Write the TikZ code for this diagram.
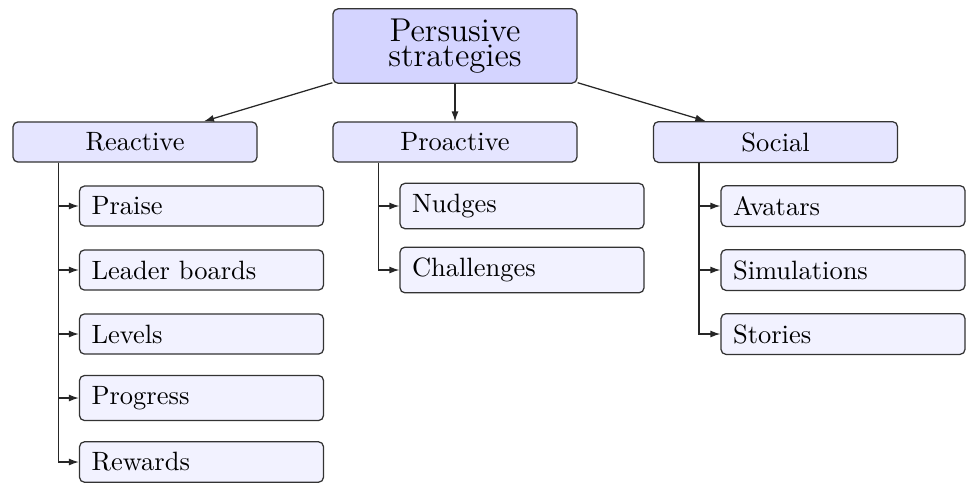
\documentclass[tikz,border=0pt]{standalone}
\usetikzlibrary{arrows.meta}
\newcommand*{\boxw }{97.6pt}
\newcommand*{\itemw}{88pt}
\newcommand*{\trunk}{18.4pt}
\colorlet{toplila}{blue!17}
\colorlet{grouplila}{blue!10}
\colorlet{itemlila}{blue!5}

\begin{document}
\begin{tikzpicture}[
        every node/.style={draw=black!80, rounded corners=2pt, line width=0.5pt, font=\fontsize{10.6}{12.7}\selectfont},
        topbox/.style={fill=toplila, minimum width=\boxw, align=center, font=\fontsize{13.2}{15}\selectfont, inner ysep=4pt},
        groupbox/.style={fill=grouplila, minimum width=\boxw, inner ysep=4.3pt},
        itembox/.style={fill=itemlila, text width=\itemw, inner xsep=4.8pt, inner ysep=4.3pt, align=left},
        conn/.style={-{Latex[length=4pt,width=2.8pt]}, black!85, line width=0.5pt}]
    \useasboundingbox (0,0) rectangle (386.8pt,-193.2pt);
    % root
    \node [topbox] (persuade) at (182pt,-18.4pt) {Persusive\\[-5pt]strategies};
    % strategy groups
    \node [groupbox] (reactive)  at ( 54pt,-56.8pt) {Reactive};
    \node [groupbox] (proactive) at (182pt,-56.8pt) {Proactive};
    \node [groupbox] (social)    at (310.2pt,-56.8pt) {Social};
    % reactive
    \node [itembox] (praise)   at (80.6pt, -82.4pt) {Praise};
    \node [itembox] (leaders)  at (80.6pt,-108pt)   {Leader boards};
    \node [itembox] (levels)   at (80.6pt,-133.6pt) {Levels};
    \node [itembox] (progress) at (80.6pt,-159.2pt) {Progress};
    \node [itembox] (rewards)  at (80.6pt,-184.8pt) {Rewards};
    % proactive
    \node [itembox] (nudges)     at (208.8pt, -82.4pt) {Nudges};
    \node [itembox] (challenges) at (208.8pt,-108pt)   {Challenges};
    % social
    \node [itembox] (avatars)     at (337.2pt, -82.4pt) {Avatars};
    \node [itembox] (simulations) at (337.2pt,-108pt)   {Simulations};
    \node [itembox] (stories)     at (337.2pt,-133.6pt) {Stories};

    \draw [conn] (persuade) -- (reactive);
    \draw [conn] (persuade) -- (proactive);
    \draw [conn] (persuade) -- (social);

    \draw [conn] (reactive.south west) ++(\trunk,0) |- (praise.west);
    \draw [conn] (reactive.south west) ++(\trunk,0) |- (leaders.west);
    \draw [conn] (reactive.south west) ++(\trunk,0) |- (levels.west);
    \draw [conn] (reactive.south west) ++(\trunk,0) |- (progress.west);
    \draw [conn] (reactive.south west) ++(\trunk,0) |- (rewards.west);

    \draw [conn] (proactive.south west) ++(\trunk,0) |- (nudges.west);
    \draw [conn] (proactive.south west) ++(\trunk,0) |- (challenges.west);

    \draw [conn] (social.south west) ++(\trunk,0) |- (avatars.west);
    \draw [conn] (social.south west) ++(\trunk,0) |- (simulations.west);
    \draw [conn] (social.south west) ++(\trunk,0) |- (stories.west);
    %\draw [help lines] (0,0) grid (386.8pt,-193.2pt);
\end{tikzpicture}
\end{document}
